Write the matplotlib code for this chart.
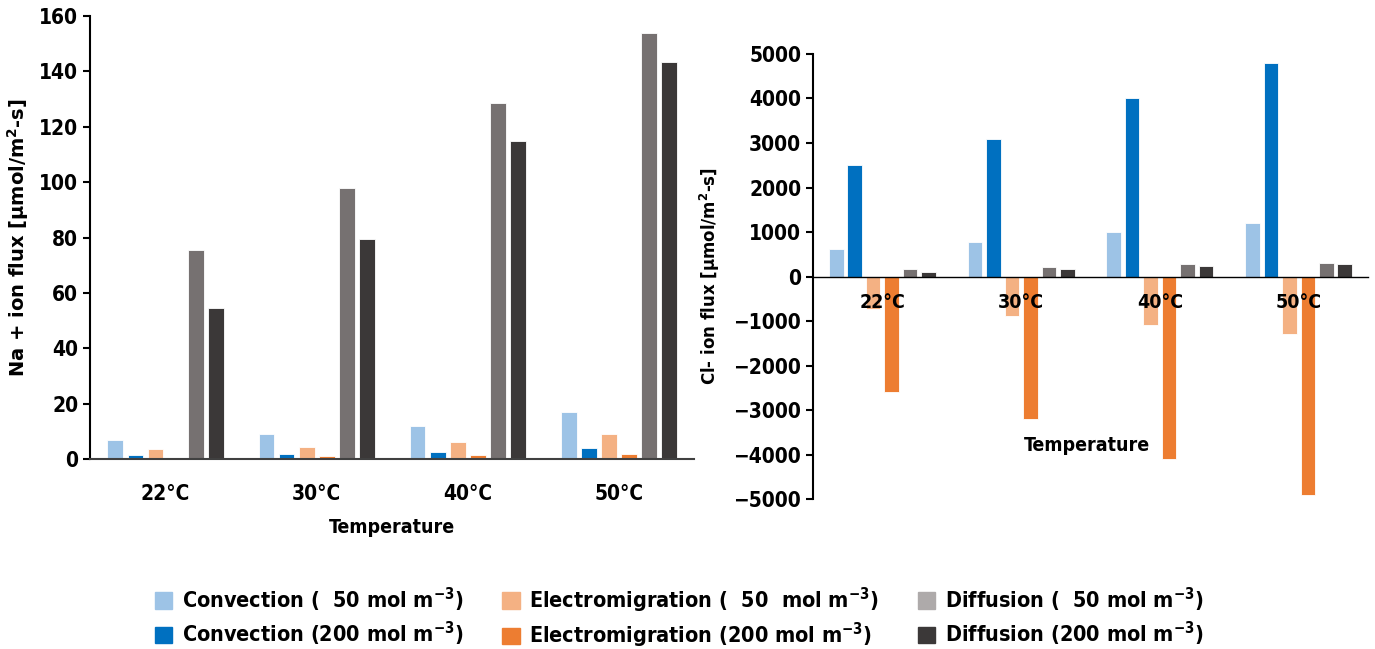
import matplotlib
matplotlib.use('Agg')
import matplotlib.pyplot as plt
import numpy as np
from matplotlib.patches import Patch

plt.rcParams['font.family'] = ['DejaVu Sans']
plt.rcParams['font.stretch'] = 'condensed'
plt.rcParams['font.weight'] = 'bold'
plt.rcParams['mathtext.default'] = 'regular'

temps = ['22°C', '30°C', '40°C', '50°C']
series = ['Convection (  50 mol m$^{-3}$)', 'Convection (200 mol m$^{-3}$)',
          'Electromigration (  50  mol m$^{-3}$)', 'Electromigration (200 mol m$^{-3}$)',
          'Diffusion (  50 mol m$^{-3}$)', 'Diffusion (200 mol m$^{-3}$)']
colors = ['#9DC3E6', '#0070C0', '#F4B183', '#ED7D31', '#767171', '#3B3838']
legend_colors = ['#9DC3E6', '#0070C0', '#F4B183', '#ED7D31', '#AEAAAA', '#3B3838']

# Na+ flux, per series, per temperature
na_conv50 = [6.8, 9.0, 12.0, 17.0]
na_conv200 = [1.3, 1.8, 2.6, 3.8]
na_elec50 = [3.5, 4.3, 6.0, 9.0]
na_elec200 = [0.5, 0.9, 1.3, 1.8]
na_diff50 = [75.5, 98.0, 128.5, 154.0]
na_diff200 = [54.5, 79.5, 115.0, 143.5]

# Cl- flux
cl_conv50 = [620, 780, 1000, 1200]
cl_conv200 = [2500, 3090, 4000, 4800]
cl_elec50 = [-720, -880, -1090, -1300]
cl_elec200 = [-2600, -3200, -4100, -4900]
cl_diff50 = [160, 210, 280, 300]
cl_diff200 = [110, 160, 230, 270]

na = [na_conv50, na_conv200, na_elec50, na_elec200, na_diff50, na_diff200]
cl = [cl_conv50, cl_conv200, cl_elec50, cl_elec200, cl_diff50, cl_diff200]

fig = plt.figure(figsize=(13.75, 6.49), dpi=100)
ax1 = fig.add_axes([0.0655, 0.2928, 0.4395, 0.6825])
ax2 = fig.add_axes([0.5913, 0.2311, 0.4036, 0.6857])

x = np.arange(len(temps))
pitch = 0.133
bw = 0.105


def draw(ax, data):
    for i, vals in enumerate(data):
        ax.bar(x + (i - 2.5) * pitch, vals, bw, color=colors[i],
               edgecolor='white', linewidth=0.6, zorder=2)
    ax.set_xlim(-0.5, 3.5)
    ax.set_xticks(x)
    ax.set_xticklabels(temps)
    ax.tick_params(axis='x', length=0, labelsize=15)
    ax.tick_params(axis='y', labelsize=15, length=5, width=1.5, direction='out')
    for s in ['top', 'right']:
        ax.spines[s].set_visible(False)
    ax.spines['left'].set_linewidth(1.5)
    ax.spines['bottom'].set_linewidth(1.5)
    ax.spines['bottom'].set_color('#404040')


draw(ax1, na)
ax1.set_ylim(0, 160)
ax1.set_yticks(range(0, 161, 20))
ax1.tick_params(axis='x', pad=18)
ax1.set_xlabel('Temperature', fontsize=14, labelpad=10, fontweight='bold')
ax1.set_ylabel('Na + ion flux [µmol/m$^{2}$-s]', fontsize=14, labelpad=6,
               fontweight='bold', fontstretch='normal')

draw(ax2, cl)
ax2.set_axisbelow(False)
ax2.set_ylim(-5000, 5000)
ax2.set_yticks(range(-5000, 5001, 1000))
ax2.spines['bottom'].set_position(('data', 0))
ax2.spines['bottom'].set_color('black')
ax2.spines['bottom'].set_linewidth(1.0)
ax2.tick_params(axis='x', pad=12, labelsize=14)
ax2.set_ylabel('Cl- ion flux [µmol/m$^{2}$-s]', fontsize=12, labelpad=8,
               fontweight='bold', fontstretch='normal')
ax2.text(0.494, 0.121, 'Temperature', transform=ax2.transAxes, ha='center',
         va='center', fontsize=14, fontweight='bold')

handles = [Patch(color=legend_colors[i], label=series[i]) for i in range(6)]
fig.legend(handles=handles, loc='center', bbox_to_anchor=(0.494, 0.048),
           ncol=3, frameon=False, fontsize=15.5, handlelength=0.8,
           handleheight=0.8, handletextpad=0.45, columnspacing=1.8,
           labelspacing=0.3)

fig.savefig('out.png', dpi=100)
